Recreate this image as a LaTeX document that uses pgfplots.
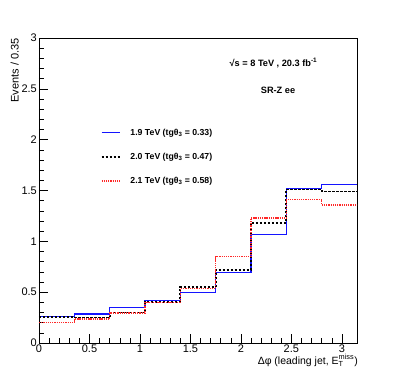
\documentclass[border=0pt]{standalone}
\usepackage{fontspec}
\setmainfont{Liberation Sans}
\usepackage{amsmath}
\usepackage{pgfplots}
\pgfplotsset{compat=1.18}
\definecolor{rootblue}{RGB}{20,20,255}
\definecolor{rootred}{RGB}{255,40,40}
\begin{document}
\begin{tikzpicture}
\begin{axis}[
  scale only axis, width=318pt, height=305pt,
  xmin=0, xmax=3.15, ymin=0, ymax=3,
  xtick={0,0.5,1,1.5,2,2.5,3}, ytick={0,0.5,1,1.5,2,2.5,3},
  minor x tick num=4, minor y tick num=4,
  tick align=inside, xtick pos=bottom, ytick pos=left,
  major tick length=9pt, minor tick length=4.5pt,
  tick style={black, line width=0.5pt},
  axis line style={black, line width=0.6pt},
  /pgf/number format/assume math mode=true,
  ticklabel style={font=\fontsize{11}{13}\selectfont},
  xticklabel style={inner sep=1.5pt},
  yticklabel style={inner sep=2pt},
  xlabel={Δφ (leading jet, $\text{E}^{\text{miss}}_{\text{T}}$)},
  xlabel style={at={([xshift=1pt,yshift=-11pt]axis description cs:1,0)}, anchor=north east, inner sep=0pt, font=\fontsize{10.5}{12}\selectfont},
  ylabel={Events / 0.35},
  ylabel style={at={([xshift=-20pt]axis description cs:0,1)}, anchor=south east, inner sep=0pt, font=\fontsize{11}{13}\selectfont},
  legend image code/.code={\draw[#1] (0pt,0pt) -- (18pt,0pt);},
  legend style={draw=none, fill=none, inner sep=0pt, outer sep=0pt,
    column sep=10pt, row sep=16.5pt,
    nodes={inner sep=0pt},
    font=\bfseries\fontsize{8.7}{9.5}\selectfont,
    at={(axis description cs:0.194,0.61)}, anchor=west},
  legend cell align=left,
]
\addplot[const plot, rootblue, line width=1.3pt] coordinates {
  (0,0.26) (0.35,0.285) (0.7,0.35) (1.05,0.42) (1.4,0.50)
  (1.75,0.695) (2.1,1.07) (2.45,1.517) (2.8,1.556) (3.15,1.556)};
\addlegendentry{1.9 TeV (tgθ\textsubscript{3} = 0.33)}
\addplot[const plot, black, line width=1.8pt, dash pattern=on 2.2pt off 1.8pt] coordinates {
  (0,0.255) (0.35,0.25) (0.7,0.30) (1.05,0.40) (1.4,0.55)
  (1.75,0.72) (2.1,1.18) (2.45,1.51) (2.8,1.49) (3.15,1.49)};
\addlegendentry{2.0 TeV (tgθ\textsubscript{3} = 0.47)}
\addplot[const plot, rootred, line width=1.6pt, dash pattern=on 1.3pt off 0.9pt] coordinates {
  (0,0.20) (0.35,0.235) (0.7,0.295) (1.05,0.40) (1.4,0.535)
  (1.75,0.85) (2.1,1.23) (2.45,1.41) (2.8,1.355) (3.15,1.355)};
\addlegendentry{2.1 TeV (tgθ\textsubscript{3} = 0.58)}
\node[anchor=base west, inner sep=0pt, font=\bfseries\fontsize{9.2}{10}\selectfont] at (axis description cs:0.599,0.908) {√s = 8 TeV , 20.3 fb\textsuperscript{-1}};
\node[anchor=center, inner sep=0pt, font=\bfseries\fontsize{9.2}{10}\selectfont] at (axis description cs:0.7516,0.8295) {SR-Z ee};
\coordinate (bl) at (rel axis cs:0,0);
\coordinate (tr) at (rel axis cs:1,1);
\end{axis}
\pgfresetboundingbox
\path ([shift={(-39pt,-40pt)}]bl) rectangle ([shift={(42pt,38pt)}]tr);
\end{tikzpicture}
\end{document}
